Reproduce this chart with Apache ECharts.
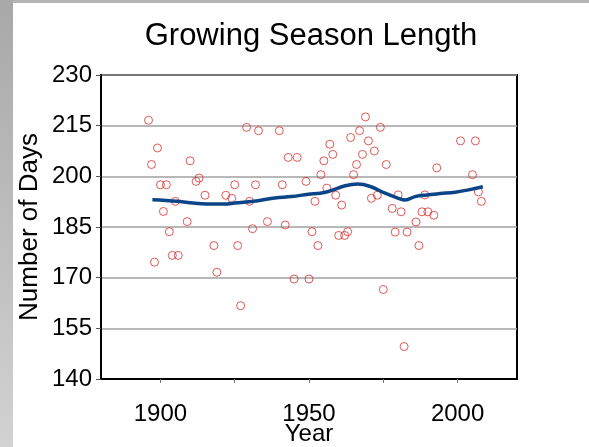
<!DOCTYPE html>
<html>
<head>
<meta charset="utf-8">
<script src="https://cdn.jsdelivr.net/npm/echarts@6/dist/echarts.min.js"></script>
<style>
  html, body { margin: 0; padding: 0; background: #fff; }
  #main { width: 589px; height: 447px; }
</style>
</head>
<body>
<div id="main"></div>
<script>
var years = [1896, 1899, 1897, 1900, 1902, 1901, 1903, 1898, 1904, 1906, 1905, 1910, 1912, 1913, 1915, 1909,
  1918, 1919, 1922, 1924, 1925, 1926, 1927, 1929, 1930, 1931, 1932, 1933, 1936, 1940, 1941, 1942, 1943, 1946,
  1945, 1949, 1950, 1951, 1952, 1953,
  1954, 1955, 1956, 1957, 1958, 1959, 1961, 1960, 1962, 1963, 1964, 1965, 1966, 1967, 1968, 1969, 1970, 1971,
  1972, 1973, 1974, 1975, 1976, 1978, 1979, 1980, 1981, 1982, 1983, 1986, 1987, 1988, 1989, 1990, 1992, 1993,
  2001, 2005, 2006, 2007, 2008];
var days = [216.6, 208.4, 203.5, 197.5, 197.5, 189.6, 183.6, 174.6, 176.6, 176.6, 192.6, 204.6, 198.5, 199.5, 194.4, 186.6,
  179.5, 171.6, 194.4, 193.5, 197.5, 179.5, 161.7, 214.5, 192.6, 184.5, 197.5, 213.5, 186.6, 213.5, 197.5, 185.6, 205.6, 205.6,
  169.6, 198.5, 169.6, 183.6, 192.6, 179.5,
  200.5, 204.6, 196.5, 209.5, 206.5, 194.4, 191.5, 182.5, 182.5, 183.6, 211.5, 200.5, 203.5, 213.5, 206.5, 217.6, 210.5, 193.5,
  207.5, 194.4, 214.5, 166.5, 203.5, 190.5, 183.5, 194.5, 189.5, 149.6, 183.5, 186.5, 179.5, 189.5, 194.5, 189.5, 188.5, 202.5,
  210.5, 200.5, 210.5, 195.4, 192.6];

// smoothed trend curve
var trendYears = [1897.3, 1905.7, 1913.8, 1921.7, 1925, 1932.9, 1938.5, 1944.2, 1949.8, 1953.7, 1956.5, 1962.2, 1966.4,
  1970.6, 1975.6, 1980.1, 1982.4, 1985.7, 1989.6, 1994.1, 1999.2, 2003.7, 2008.5];
var trendDays = [193.05, 192.6, 191.9, 191.8, 192.1, 192.8, 193.6, 194.0, 194.7, 195.0, 195.5, 197.2, 197.7,
  197.0, 195.0, 193.5, 193.0, 194.0, 194.5, 194.9, 195.3, 196.0, 196.9];

var yTicks = [140, 155, 170, 185, 200, 215, 230];
var xTicks = [1900, 1925, 1950, 1975, 2000];
var xLabels = [1900, 1950, 2000];

var points = years.map(function (y, i) { return [y, days[i]]; });
var trend = trendYears.map(function (y, i) { return [y, trendDays[i]]; });

var font = '"Liberation Sans", Arial, sans-serif';
var chart = echarts.init(document.getElementById('main'));
chart.setOption({
  animation: false,
  backgroundColor: '#fff',
  graphic: [
    { type: 'rect', shape: { x: 0, y: 0, width: 13, height: 447 }, silent: true,
      style: { fill: new echarts.graphic.LinearGradient(0, 0, 0, 1, [
        { offset: 0, color: '#a8a8a8' }, { offset: 1, color: '#d2d2d2' }]) } },
    { type: 'rect', shape: { x: 13, y: 0, width: 576, height: 3 }, silent: true,
      style: { fill: '#b4b4b4' } }
  ],
  title: {
    text: 'Growing Season Length',
    left: 306,
    textAlign: 'center',
    top: 16,
    textStyle: { fontFamily: font, fontSize: 31, fontWeight: 'normal', color: '#000' }
  },
  grid: {
    left: 101, top: 75, right: 72, bottom: 68,
    outerBoundsMode: 'none',
    show: true, borderColor: '#000', borderWidth: 2, backgroundColor: '#fff'
  },
  xAxis: {
    type: 'value', min: 1880, max: 2020,
    name: 'Year', nameLocation: 'middle', nameGap: 43, nameMoveOverlap: false,
    nameTextStyle: { fontFamily: font, fontSize: 24, color: '#000' },
    axisLine: { show: true, lineStyle: { color: '#000', width: 2 } },
    axisTick: { show: true, length: 4, customValues: xTicks, lineStyle: { color: '#777' } },
    axisLabel: { customValues: xLabels, margin: 23, fontFamily: font, fontSize: 24, color: '#000',
      formatter: function (v) { return String(v); } },
    splitLine: { show: false }
  },
  yAxis: {
    type: 'value', min: 140, max: 230,
    name: 'Number of Days', nameLocation: 'middle', nameGap: 58, nameRotate: 90, nameMoveOverlap: false,
    nameTextStyle: { fontFamily: font, fontSize: 26, color: '#000' },
    axisLine: { show: true, lineStyle: { color: '#000', width: 2 } },
    axisTick: { show: true, length: 5, customValues: yTicks, lineStyle: { color: '#555' } },
    axisLabel: { customValues: yTicks, margin: 9, fontFamily: font, fontSize: 24, color: '#000' },
    splitLine: { show: true, lineStyle: { color: '#a0a0a0', width: 1.5 } }
  },
  series: [
    {
      type: 'scatter',
      data: points,
      symbol: 'circle',
      symbolSize: 8,
      itemStyle: { color: 'rgba(255,255,255,0)', borderColor: '#d8302c', borderWidth: 1 },
      z: 2
    },
    {
      type: 'line',
      data: trend,
      smooth: 0.4,
      showSymbol: false,
      lineStyle: { color: '#0b4487', width: 3.5 },
      z: 3
    }
  ]
});
</script>
</body>
</html>
